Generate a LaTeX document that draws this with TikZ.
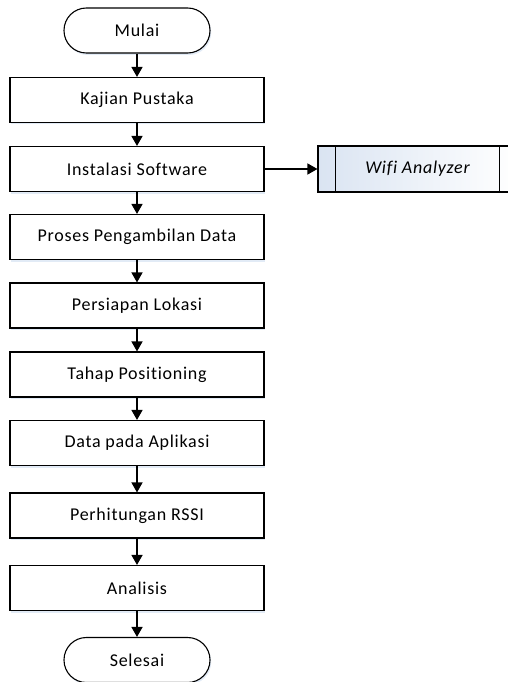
\documentclass[tikz,border=0pt]{standalone}
\usepackage{fontspec}
\setmainfont{Carlito}[Ligatures={NoCommon},LetterSpace=4]
\usetikzlibrary{arrows.meta,shadows}
\definecolor{shadowblue}{RGB}{214,226,242}
\definecolor{fillblue}{RGB}{218,228,242}
\begin{document}
\begin{tikzpicture}[x=1pt,y=-1pt,
  boxshadow/.style={drop shadow={shadow xshift=1.2pt,shadow yshift=-2pt,fill=shadowblue,opacity=0.7}},
  procbox/.style={draw=black,line width=1.1pt,fill=white,minimum width=254pt,minimum height=45pt,
    font=\fontsize{18}{21}\selectfont,boxshadow,inner sep=0pt},
  termbox/.style={draw=black,line width=1.1pt,fill=white,minimum width=146pt,minimum height=45pt,
    rounded corners=22.4pt,font=\fontsize{18}{21}\selectfont,boxshadow,inner sep=0pt},
  flowarrow/.style={line width=1.5pt,-{Triangle[width=11pt,length=10pt]}}]
\useasboundingbox (0,0) rectangle (508,682);
\node[termbox] (mulai) at (137,30.5) {Mulai};
\node[procbox] (kajian) at (137,100) {Kajian Pustaka};
\node[procbox] (instal) at (137,169) {Instalasi Software};
\node[procbox] (proses) at (137,237) {Proses Pengambilan Data};
\node[procbox] (persiapan) at (137,305.5) {Persiapan Lokasi};
\node[procbox] (tahap) at (137,374.5) {Tahap Positioning};
\node[procbox] (data) at (137,443) {Data pada Aplikasi};
\node[procbox] (hitung) at (137,515.5) {Perhitungan RSSI};
\node[procbox] (analisis) at (137,588) {Analisis};
\node[termbox] (selesai) at (137,660) {Selesai};
\node[draw=black,line width=1.1pt,left color=fillblue,right color=white,
  minimum width=199pt,minimum height=46pt,inner sep=0pt,
  font=\fontsize{18}{21}\selectfont\itshape] (wifi) at (417.5,169) {Wifi Analyzer};
\draw[line width=1.1pt] ([xshift=18pt]wifi.north west) -- ([xshift=18pt]wifi.south west);
\draw[line width=1.1pt] ([xshift=-18pt]wifi.north east) -- ([xshift=-18pt]wifi.south east);
\draw[flowarrow] (mulai) -- (kajian);
\draw[flowarrow] (kajian) -- (instal);
\draw[flowarrow] (instal) -- (proses);
\draw[flowarrow] (proses) -- (persiapan);
\draw[flowarrow] (persiapan) -- (tahap);
\draw[flowarrow] (tahap) -- (data);
\draw[flowarrow] (data) -- (hitung);
\draw[flowarrow] (hitung) -- (analisis);
\draw[flowarrow] (analisis) -- (selesai);
\draw[flowarrow] (instal.east) -- (wifi.west);
\end{tikzpicture}
\end{document}
